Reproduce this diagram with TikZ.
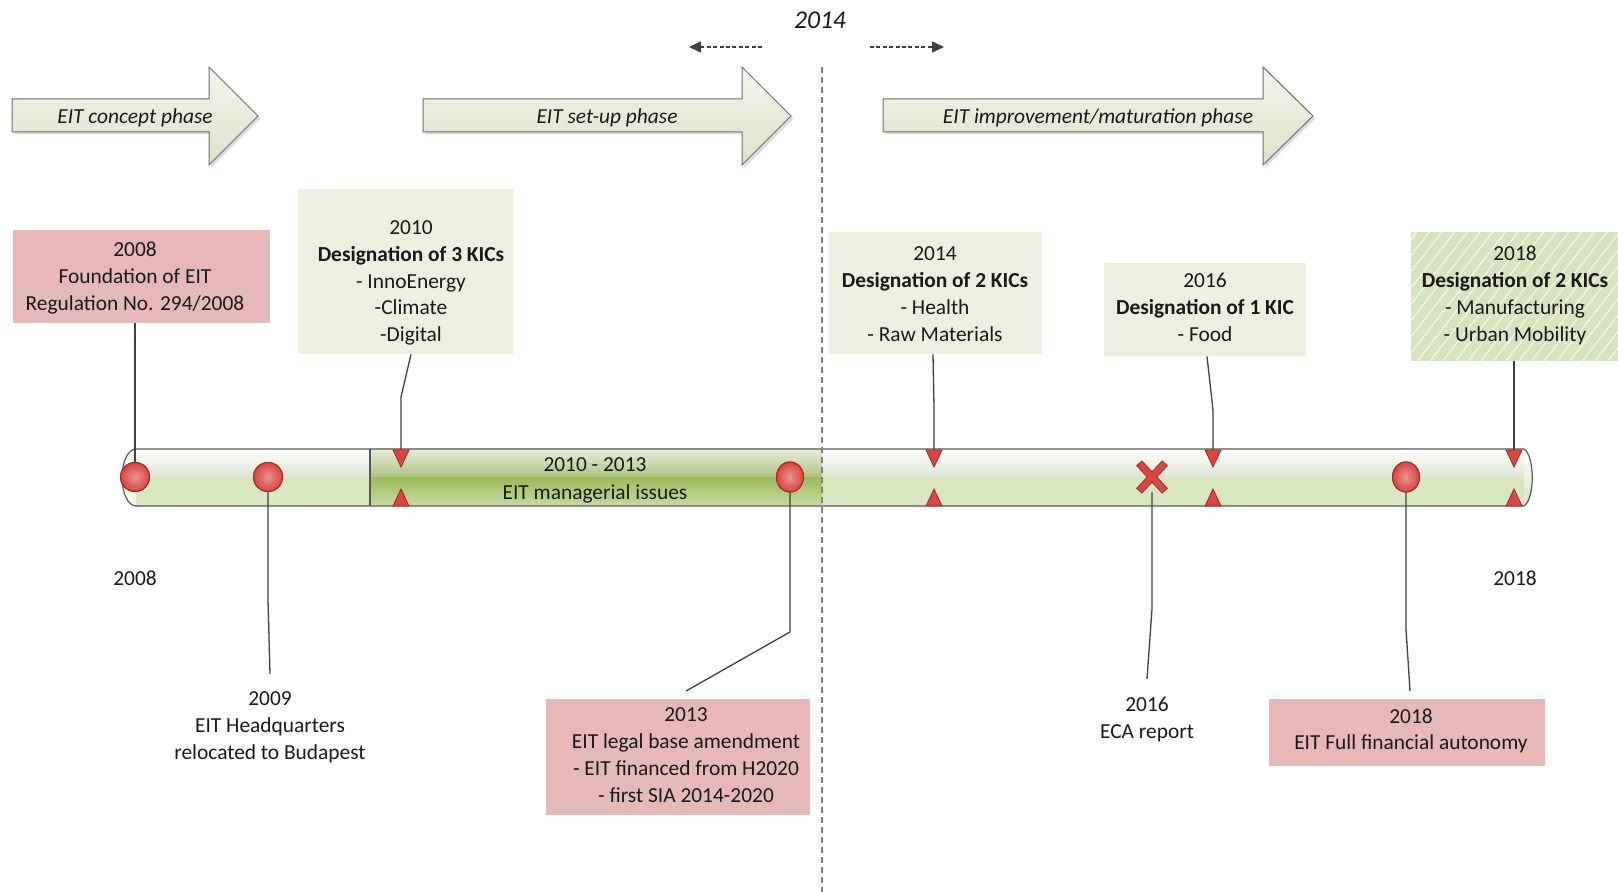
\documentclass[tikz,border=0pt]{standalone}
\usepackage{fontspec}
\setmainfont{Carlito}
\usetikzlibrary{shadows,patterns.meta,arrows.meta,calc,shapes.geometric}
\definecolor{pinkfill}{HTML}{E6B9B8}
\definecolor{greenfill}{HTML}{EBF1DE}
\definecolor{hatchfill}{HTML}{D7E4BD}
\definecolor{arrowtop}{HTML}{F3F5EC}
\definecolor{arrowbot}{HTML}{DCE3C9}
\definecolor{arrowedge}{HTML}{6E6E6E}
\definecolor{linegray}{HTML}{404040}
\definecolor{dashgray}{HTML}{7F7F7F}
\definecolor{barline}{HTML}{595959}
\definecolor{barmid}{HTML}{DEE4D3}
\definecolor{barlow}{HTML}{D9E7C0}
\definecolor{darktop}{HTML}{E6ECDA}
\definecolor{darkmid}{HTML}{AFC47E}
\definecolor{darkmidb}{HTML}{9BBB59}
\definecolor{darkbot}{HTML}{C8DBA2}
\definecolor{redfill}{HTML}{D9463F}
\definecolor{redlight}{HTML}{E8938E}
\definecolor{redline}{HTML}{9E2A24}
\begin{document}
\begin{tikzpicture}[x=0.5pt,y=-0.5pt,
  txt/.style={align=center,inner sep=0pt,text=black!90,font=\fontsize{10.7}{13.4}\selectfont},
  phasetxt/.style={inner sep=0pt,text=black!90,font=\fontsize{10.7}{13}\selectfont\itshape},
  pbox/.style={rectangle,fill=pinkfill,inner sep=0pt},
  gbox/.style={rectangle,fill=greenfill,inner sep=0pt},
  hbox/.style={rectangle,fill=hatchfill,inner sep=0pt,postaction={pattern={Lines[angle=52,distance=5pt,line width=0.5pt]},pattern color=white!80!hatchfill}},
  phasearrow/.style={draw=arrowedge,line width=0.5pt,top color=arrowtop,bottom color=arrowbot,drop shadow={shadow xshift=1.2pt,shadow yshift=-1.2pt,fill=black!30,opacity=0.45}},
  conn/.style={draw=linegray,line width=0.65pt},
  redball/.style={circle,inner sep=0pt,minimum size=14.5pt,draw=redline,line width=0.5pt,inner color=redlight,outer color=redfill},
  redballv/.style={ellipse,inner sep=0pt,minimum width=13.5pt,minimum height=15pt,draw=redline,line width=0.5pt,inner color=redlight,outer color=redfill},
  redtri/.style={fill=redfill,draw=redline,line width=0.4pt},
  dasharrow/.style={draw=linegray,line width=0.8pt,dash pattern=on 2pt off 1.2pt,-{Triangle[length=6pt,width=5.5pt]}},
  barstroke/.style={draw=barline,line width=0.6pt},
]
\useasboundingbox (0,0) rectangle (1618,892);

% ---- top 2014 and dashed arrows
\node[inner sep=0pt,text=black!90,font=\fontsize{12.8}{14}\selectfont\itshape] (y2014) at (820,20.5) {2014};
\coordinate (dla) at (762,47); \coordinate (dlb) at (689,47);
\coordinate (dra) at (870,47); \coordinate (drb) at (944,47);
\draw[dasharrow] (dla) -- (dlb);
\draw[dasharrow] (dra) -- (drb);

% ---- phase arrows
\path[phasearrow] (12,99) -- (209,99) -- (209,67) -- (258,116) -- (209,165) -- (209,132) -- (12,132) -- cycle;
\path[phasearrow] (423,99) -- (742,99) -- (742,67) -- (791,116) -- (742,165) -- (742,132) -- (423,132) -- cycle;
\path[phasearrow] (883,99) -- (1263,99) -- (1263,67) -- (1313,116) -- (1263,165) -- (1263,132) -- (883,132) -- cycle;
\node[phasetxt] (ph1) at (135,118) {EIT concept phase};
\node[phasetxt] (ph2) at (607,118) {EIT set-up phase};
\node[phasetxt] (ph3) at (1098,118) {EIT improvement/maturation phase};

% ---- top boxes
\node[pbox,minimum width=128.5pt,minimum height=46.5pt] (b2008) at (141.5,276.5) {};
\node[txt] (t2008) at (135,278) {2008\\Foundation of EIT\\Regulation No. 294/2008};
\node[gbox,minimum width=107.5pt,minimum height=82.5pt] (b2010) at (405.5,271.5) {};
\node[txt] (t2010) at (411,283) {2010\\\textbf{Designation of 3 KICs}\\- InnoEnergy\\-Climate\\-Digital};
\node[gbox,minimum width=106.5pt,minimum height=61pt] (b2014) at (935.5,293) {};
\node[txt] (t2014) at (935,294) {2014\\\textbf{Designation of 2 KICs}\\- Health\\- Raw Materials};
\node[gbox,minimum width=101pt,minimum height=46.5pt] (b2016) at (1205,309.5) {};
\node[txt] (t2016) at (1205,307.5) {2016\\\textbf{Designation of 1 KIC}\\- Food};
\node[hbox,minimum width=103.5pt,minimum height=64.5pt] (b2018t) at (1514.5,296.5) {};
\node[txt] (t2018t) at (1515,295.5) {2018\\\textbf{Designation of 2 KICs}\\- Manufacturing\\- Urban Mobility};

% ---- bottom boxes and labels
\node[pbox,minimum width=132pt,minimum height=58pt] (b2013) at (678,757) {};
\node[txt] (t2013) at (686,755) {2013\\EIT legal base amendment\\- EIT financed from H2020\\- first SIA 2014-2020};
\node[pbox,minimum width=138pt,minimum height=33.5pt] (b2018b) at (1407,732.5) {};
\node[txt] (t2018b) at (1411,731) {2018\\EIT Full financial autonomy};
\node[txt] (l2008) at (135,578) {2008};
\node[txt] (l2018) at (1515,578) {2018};
\node[txt] (l2009) at (270,727) {2009\\EIT Headquarters\\relocated to Budapest};
\node[txt] (leca) at (1147,719.5) {2016\\ECA report};

% ---- timeline bar
\path[left color=white,right color=barlow,barstroke] (136,477.5) ellipse [x radius=7pt,y radius=14.25pt];
\shade[top color=white,bottom color=barmid] (136,449) rectangle (1524,477.5);
\fill[barlow] (136,477.5) rectangle (1524,506);
\shade[top color=white,bottom color=barlow] (1524,449) .. controls (1535,456) and (1535,499) .. (1524,506) -- cycle;
\shade[top color=darktop,bottom color=darkmid] (370,449) rectangle (822,477.5);
\shade[top color=darkmidb,bottom color=darkbot] (370,477.5) rectangle (822,506);
\path[barstroke] (136,449) -- (1524,449) .. controls (1535,456) and (1535,499) .. (1524,506) -- (136,506);
\path[barstroke] (370,449) -- (370,506);
\node[txt] (m1) at (595,465) {2010 - 2013};
\node[txt] (m2) at (595,494) {EIT managerial issues};

% ---- dashed 2014 divider
\coordinate (dtop) at (822,67); \coordinate (dbot) at (822,892);
\draw[dashgray,line width=0.8pt,dash pattern=on 3pt off 2pt] (dtop) -- (dbot);

% ---- markers positions
\node[redball] (ball2008) at (135,477) {};
\node[redball] (ball2009) at (268,477) {};
\node[redballv] (ball2013) at (790,477) {};
\node[redballv] (ball2018) at (1406,477) {};
\node[inner sep=0pt,minimum size=15pt] (xeca) at (1152,477) {};
\coordinate (tria) at (401,450);
\coordinate (trib) at (934,450);
\coordinate (tric) at (1213,450);
\coordinate (trid) at (1514,450);

% ---- connectors
\coordinate (k2010) at (401,397);
\coordinate (k2014) at (934,407);
\coordinate (k2016) at (1213,410);
\draw[conn] (b2008.south -| ball2008) -- (ball2008.center);
\draw[conn] ($(b2010.south)+(5.5,0)$) -- (k2010) -- (tria);
\draw[conn] ($(b2014.south)+(-2.5,0)$) -- (k2014) -- (trib);
\draw[conn] ($(b2016.south)+(2,0)$) -- (k2016) -- (tric);
\draw[conn] (b2018t.south -| trid) -- (trid);
\coordinate (k2009) at (268,600); \coordinate (e2009) at (270,674);
\coordinate (k2013) at (790,632); \coordinate (e2013) at (686,691);
\coordinate (keca) at (1152,609); \coordinate (eeca) at (1147,679);
\coordinate (k2018) at (1406,629); \coordinate (e2018) at (1410,691);
\draw[conn] (ball2009.center) -- (k2009) -- (e2009);
\draw[conn] (ball2013.center) -- (k2013) -- (e2013);
\draw[conn] (xeca.south) -- (keca) -- (eeca);
\draw[conn] (ball2018.center) -- (k2018) -- (e2018);

% ---- redraw balls on top
\node[redball] at (ball2008) {};
\node[redball] at (ball2009) {};
\node[redballv] at (ball2013) {};
\node[redballv] at (ball2018) {};

% ---- triangles
\foreach \x in {401,934,1213,1514} {
  \path[redtri] (\x-8,450) -- (\x+8,450) -- (\x,467) -- cycle;
  \path[redtri] (\x-8,506) -- (\x+8,506) -- (\x,489) -- cycle;
}

% ---- X mark
\draw[redline,line width=3.9pt] (1139,463) -- (1165,491) (1165,463) -- (1139,491);
\draw[redfill,line width=3pt] (1139.6,463.6) -- (1164.4,490.4) (1164.4,463.6) -- (1139.6,490.4);
\end{tikzpicture}
\end{document}
